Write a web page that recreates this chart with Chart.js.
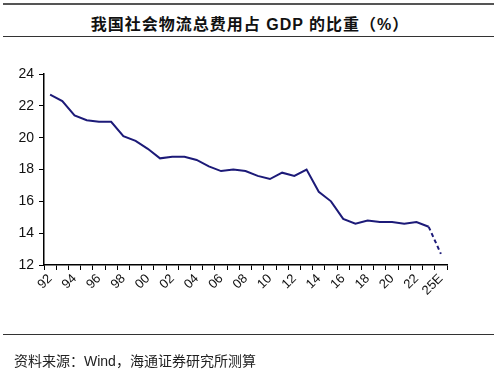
<!DOCTYPE html>
<html lang="zh">
<head>
    <meta charset="UTF-8">
    <title>我国社会物流总费用占 GDP 的比重</title>
    <script src="https://cdn.jsdelivr.net/npm/chart.js"></script>
    <style>
        body { margin: 0; background: #fff; }
        #wrap { position: relative; width: 500px; height: 371px; overflow: hidden; }
        #chart { position: absolute; left: 0; top: 0; }
        .rule { position: absolute; left: 3px; width: 491px; background: #333; }
        #title {
            position: absolute; left: 0; width: 500px; top: 11px; text-align: center;
            font: bold 16px "Liberation Sans", "Noto Sans CJK SC", sans-serif; color: #111;
            letter-spacing: 1px;
        }
        #source {
            position: absolute; left: 14px; top: 350px;
            font: 14px "Liberation Sans", "Noto Sans CJK SC", sans-serif; color: #222;
        }
    </style>
</head>
<body>
<div id="wrap">
    <div class="rule" style="top:3px;height:2px;background:#555"></div>
    <div id="title">我国社会物流总费用占 GDP 的比重（%）</div>
    <div class="rule" style="top:36px;height:1px"></div>
    <canvas id="chart" width="500" height="371"></canvas>
    <div class="rule" style="top:334px;height:1px"></div>
    <div id="source">资料来源：Wind，海通证券研究所测算</div>
</div>
<script>
    // years 1992-2023, then the 2025 estimate
    const years = ['92', '93', '94', '95', '96', '97', '98', '99', '00', '01', '02', '03', '04', '05', '06', '07',
        '08', '09', '10', '11', '12', '13', '14', '15', '16', '17', '18', '19', '20', '21', '22', '23', '25E'];
    const shareOfGdp = [22.7, 22.3, 21.4, 21.1, 21.0, 21.0, 20.1, 19.8, 19.3, 18.7, 18.8, 18.8, 18.6, 18.2, 17.9, 18.0,
        17.9, 17.6, 17.4, 17.8, 17.6, 18.0, 16.6, 16.0, 14.9, 14.6, 14.8, 14.7, 14.7, 14.6, 14.7, 14.4, 12.7];
    const yTicks = [12, 14, 16, 18, 20, 22, 24];

    const lastIdx = years.length - 1;
    const lineColor = '#1c1a78';

    new Chart(document.getElementById('chart'), {
        type: 'line',
        data: {
            labels: years,
            datasets: [{
                data: shareOfGdp,
                borderColor: lineColor,
                borderWidth: 2,
                pointRadius: 0,
                tension: 0,
                segment: {
                    borderDash: ctx => ctx.p1DataIndex === lastIdx ? [4, 3] : undefined
                }
            }]
        },
        options: {
            responsive: false,
            animation: false,
            layout: { padding: { left: 0, right: 53, top: 74, bottom: 0 } },
            plugins: { legend: { display: false }, tooltip: { enabled: false } },
            scales: {
                x: {
                    offset: true,
                    grid: { offset: true, drawOnChartArea: false, drawTicks: true, tickLength: 5, color: '#000' },
                    border: { display: true, color: '#000', width: 1.5 },
                    ticks: {
                        autoSkip: false,
                        maxRotation: 45,
                        minRotation: 45,
                        padding: 1,
                        color: '#111',
                        font: { family: 'Liberation Sans', size: 13 },
                        callback: (v, i) => (i % 2 === 0 ? years[i] : '')
                    },
                    afterFit: s => { s.height = 106; }
                },
                y: {
                    min: 12,
                    max: 24,
                    afterBuildTicks: s => { s.ticks = yTicks.map(v => ({ value: v })); },
                    grid: { drawOnChartArea: false, drawTicks: true, tickLength: 5, color: '#000' },
                    border: { display: true, color: '#000', width: 1.5 },
                    ticks: {
                        padding: 5,
                        color: '#111',
                        font: { family: 'Liberation Sans', size: 14 }
                    },
                    afterFit: s => { s.width = 44; }
                }
            }
        }
    });
</script>
</body>
</html>
